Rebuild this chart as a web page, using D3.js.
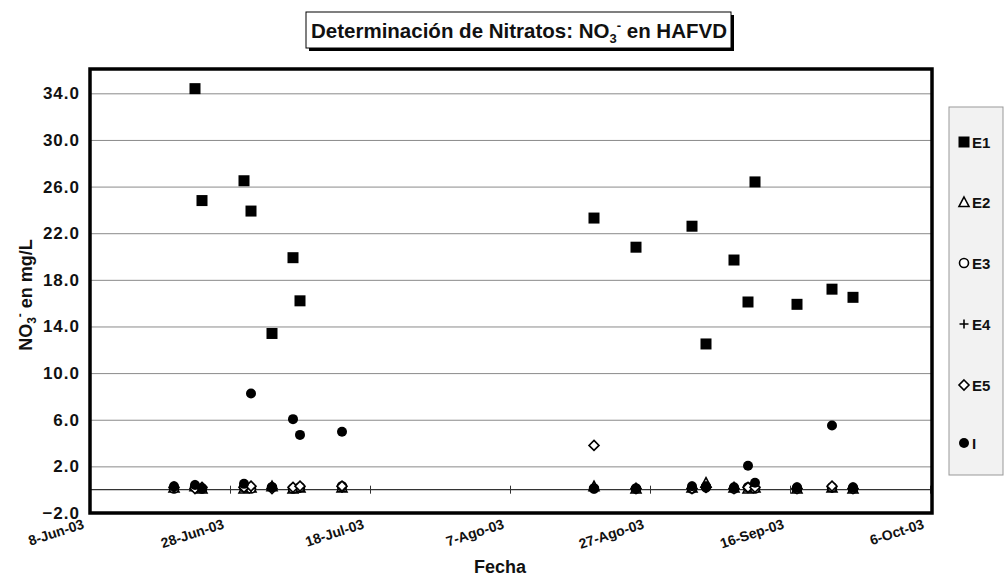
<!DOCTYPE html>
<html>
<head>
<meta charset="utf-8">
<script src="https://cdn.jsdelivr.net/npm/d3@7"></script>
<style>
  body { margin: 0; background: #fff; }
  svg text { font-family: "Liberation Sans", Arial, sans-serif; font-weight: bold; }
</style>
</head>
<body>
<svg id="chart" width="1005" height="577"></svg>
<script>
// sampling dates and NO3- values (mg/L) per station
const fechas = ["2003-06-20", "2003-06-23", "2003-06-24", "2003-06-30", "2003-07-01", "2003-07-04",
    "2003-07-07", "2003-07-08", "2003-07-14", "2003-08-19", "2003-08-25", "2003-09-02", "2003-09-04",
    "2003-09-08", "2003-09-10", "2003-09-11", "2003-09-17", "2003-09-22", "2003-09-25"];
const e1 = [null, 34.4, 24.8, 26.5, 23.9, 13.4, 19.9, 16.2, null, 23.3, 20.8, 22.6, 12.5, 19.7, 16.1, 26.4, 15.9, 17.2, 16.5];
const e2 = [0.2, 0.3, 0.1, 0.1, 0.2, 0.3, 0.1, 0.2, 0.2, 0.3, 0.1, 0.2, 0.6, 0.2, 0.1, 0.2, 0.1, 0.2, 0.1];
const e3 = [0.1, 0.2, 0.1, 0.2, 0.1, 0.2, 0.1, 0.2, 0.3, 0.1, 0.1, 0.1, 0.2, 0.1, 0.2, 0.1, 0.1, 0.2, 0.1];
const e4 = [0.1, 0.1, 0.1, 0.1, 0.1, 0.1, 0.1, 0.1, 0.1, 0.1, 0.1, 0.1, 0.1, 0.1, 0.1, 0.1, 0.1, 0.1, 0.1];
const e5 = [0.2, 0.1, 0.2, 0.2, 0.3, 0.1, 0.2, 0.3, 0.3, 3.8, 0.1, 0.1, 0.2, 0.1, 0.2, 0.2, 0.1, 0.3, 0.1];
const inf = [0.3, 0.4, 0.1, 0.5, 8.25, 0.2, 6.05, 4.7, 4.97, 0.1, 0.1, 0.3, 0.3, 0.2, 2.05, 0.6, 0.2, 5.5, 0.2];

const seriesNames = ["E1", "E2", "E3", "E4", "E5", "I"];
const xTickDates = ["2003-06-08", "2003-06-28", "2003-07-18", "2003-08-07", "2003-08-27", "2003-09-16", "2003-10-06"];
const xTickLabels = ["8-Jun-03", "28-Jun-03", "18-Jul-03", "7-Ago-03", "27-Ago-03", "16-Sep-03", "6-Oct-03"];
const yTicks = [-2, 2, 6, 10, 14, 18, 22, 26, 30, 34];

const parse = d3.timeParse("%Y-%m-%d");
const svg = d3.select("#chart");

const plotLeft = 90, plotRight = 932, plotTop = 70, plotBottom = 513;

const x = d3.scaleTime()
    .domain([parse(xTickDates[0]), parse(xTickDates[xTickDates.length - 1])])
    .range([plotLeft, 930]);
const y = d3.scaleLinear().domain([-2, 36]).range([plotBottom, plotTop]);

// gridlines
svg.append("g")
    .attr("transform", `translate(${plotLeft},0)`)
    .call(d3.axisLeft(y).tickValues(yTicks.filter(d => d > 0)).tickSize(-(plotRight - plotLeft)).tickFormat(""))
    .call(g => g.select(".domain").remove())
    .call(g => g.selectAll("line").attr("stroke", "#8a8a8a").attr("stroke-width", 1));

// y tick labels
svg.append("g")
    .attr("transform", `translate(${plotLeft},0)`)
    .call(d3.axisLeft(y).tickValues(yTicks).tickSize(0).tickPadding(10).tickFormat(d3.format(".1f")))
    .call(g => g.select(".domain").remove())
    .call(g => g.selectAll("text").attr("font-size", 17).attr("letter-spacing", 1).attr("fill", "#111"));

// zero line with cross ticks
svg.append("g")
    .attr("transform", `translate(0,${y(0)})`)
    .call(d3.axisBottom(x).tickValues(xTickDates.map(parse)).tickSize(4).tickFormat(""))
    .call(g => g.select(".domain").attr("d", `M${plotLeft},0H${plotRight}`).attr("stroke", "#333").attr("stroke-width", 1.2))
    .call(g => g.selectAll(".tick line").attr("y1", -4).attr("stroke", "#333"));

// x tick labels below the frame
svg.append("g")
    .selectAll("text")
    .data(xTickDates)
    .join("text")
    .attr("transform", d => `translate(${x(parse(d)) - 5},528) rotate(-18)`)
    .attr("text-anchor", "end")
    .attr("font-size", 14)
    .attr("fill", "#111")
    .text((d, i) => xTickLabels[i]);

// marker drawing
function marker(sel, name) {
    if (name === "E1") {
        sel.append("rect").attr("x", -5.5).attr("y", -5.5).attr("width", 11).attr("height", 11).attr("fill", "#000");
    } else if (name === "E2") {
        sel.append("path").attr("d", "M0,-5L5,4.5L-5,4.5Z").attr("fill", "#fff").attr("stroke", "#000").attr("stroke-width", 1.6);
    } else if (name === "E3") {
        sel.append("circle").attr("r", 4.5).attr("fill", "#fff").attr("stroke", "#000").attr("stroke-width", 1.6);
    } else if (name === "E4") {
        sel.append("path").attr("d", "M-4.5,0H4.5M0,-4.5V4.5").attr("stroke", "#000").attr("stroke-width", 1.6);
    } else if (name === "E5") {
        sel.append("path").attr("d", "M0,-5L5,0L0,5L-5,0Z").attr("fill", "#fff").attr("stroke", "#000").attr("stroke-width", 1.6);
    } else {
        sel.append("circle").attr("r", 5).attr("fill", "#000");
    }
}

const seriesValues = [e1, e2, e3, e4, e5, inf];
seriesValues.forEach((vals, si) => {
    const pts = fechas.map((f, i) => ({ date: parse(f), v: vals[i] })).filter(p => p.v != null);
    svg.append("g")
        .selectAll("g")
        .data(pts)
        .join("g")
        .attr("transform", p => `translate(${x(p.date)},${y(p.v)})`)
        .each(function () { marker(d3.select(this), seriesNames[si]); });
});

// plot frame
svg.append("rect")
    .attr("x", plotLeft).attr("y", plotTop - 1)
    .attr("width", plotRight - plotLeft).attr("height", plotBottom - plotTop + 1)
    .attr("fill", "none").attr("stroke", "#000").attr("stroke-width", 3.5);

// y axis title
const yt = svg.append("text")
    .attr("transform", "translate(32,295) rotate(-90)")
    .attr("text-anchor", "middle")
    .attr("font-size", 18)
    .attr("fill", "#111");
yt.append("tspan").text("NO");
yt.append("tspan").attr("font-size", 12).attr("dy", 4).text("3");
yt.append("tspan").attr("font-size", 12).attr("dy", -12).text("-");
yt.append("tspan").attr("dy", 8).text(" en mg/L");

// x axis title
svg.append("text")
    .attr("x", 500).attr("y", 573)
    .attr("text-anchor", "middle")
    .attr("font-size", 18)
    .attr("fill", "#111")
    .text("Fecha");

// title box with shadow
svg.append("rect").attr("x", 309).attr("y", 15).attr("width", 425).attr("height", 36).attr("fill", "#000");
svg.append("rect").attr("x", 306).attr("y", 12).attr("width", 425).attr("height", 36)
    .attr("fill", "#fff").attr("stroke", "#000").attr("stroke-width", 1);
const tt = svg.append("text")
    .attr("x", 519).attr("y", 38)
    .attr("text-anchor", "middle")
    .attr("font-size", 20.5)
    .attr("fill", "#111");
tt.append("tspan").text("Determinación de Nitratos: NO");
tt.append("tspan").attr("font-size", 13).attr("dy", 5).text("3");
tt.append("tspan").attr("font-size", 13).attr("dy", -13).text("-");
tt.append("tspan").attr("dy", 8).text(" en HAFVD");

// legend
const lg = svg.append("g");
lg.append("rect").attr("x", 949).attr("y", 107).attr("width", 54).attr("height", 368)
    .attr("fill", "#f2f2f2").attr("stroke", "#999").attr("stroke-width", 1);
const legendY = [142, 202, 263, 324, 385, 443];
seriesNames.forEach((name, i) => {
    const item = lg.append("g").attr("transform", `translate(964,${legendY[i]})`);
    marker(item, name);
    item.append("text").attr("x", 8).attr("y", 6).attr("font-size", 15).attr("fill", "#111").text(name);
});
</script>
</body>
</html>
